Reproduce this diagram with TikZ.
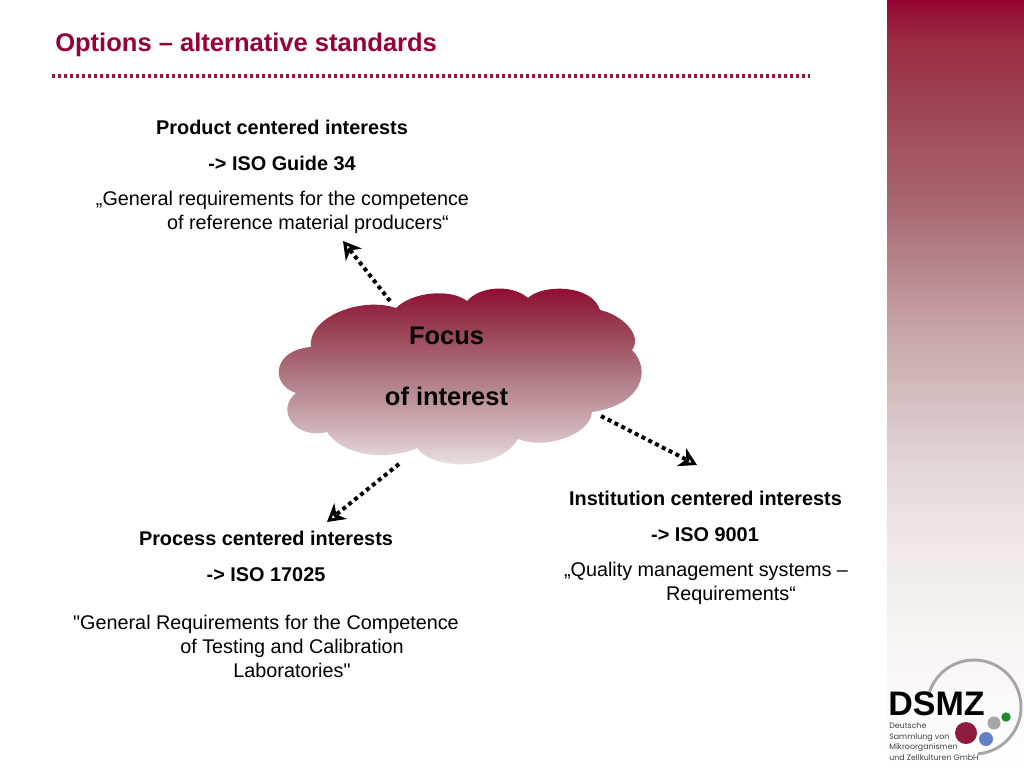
\documentclass[tikz,border=0pt]{standalone}
\usepackage{fontspec}
\setmainfont{Liberation Sans}
\newfontfamily\plainfont{Liberation Sans}
\newfontfamily\logofont{Poppins}
\newcommand{\straightq}{{\plainfont\symbol{34}}}
\usetikzlibrary{arrows.meta}
\definecolor{dsmzred}{HTML}{97003A}
\definecolor{linered}{HTML}{8E1A3E}
\definecolor{bs1}{RGB}{246,243,243}
\definecolor{bs2}{RGB}{239,233,233}
\definecolor{bs3}{RGB}{226,213,214}
\definecolor{bs4}{RGB}{200,168,172}
\definecolor{bs5}{RGB}{169,106,114}
\definecolor{bs6}{RGB}{157,66,80}
\definecolor{bs7}{RGB}{154,44,64}
\definecolor{bs8}{RGB}{150,16,56}
\definecolor{bs9}{RGB}{149,0,47}
\definecolor{cs1}{RGB}{238,232,234}
\definecolor{cs2}{RGB}{205,174,180}
\definecolor{cs3}{RGB}{176,122,134}
\definecolor{cs4}{RGB}{154,67,85}
\definecolor{cs5}{RGB}{144,32,63}
\definecolor{cs6}{RGB}{149,6,47}
\definecolor{logoblue}{RGB}{96,128,200}
\definecolor{logogreen}{RGB}{26,138,42}
\pgfdeclareverticalshading{bandshade}{100bp}{
  color(0bp)=(white); color(25bp)=(white);
  color(33.9bp)=(bs1);
  color(39.4bp)=(bs2);
  color(44.9bp)=(bs3);
  color(53.1bp)=(bs4);
  color(61.3bp)=(bs5);
  color(68.5bp)=(bs6);
  color(72.4bp)=(bs7);
  color(74.3bp)=(bs8);
  color(75bp)=(bs9);
  color(100bp)=(bs9)}
\pgfdeclareverticalshading{cloudshade}{100bp}{
  color(0bp)=(cs1); color(25bp)=(cs1);
  color(37.5bp)=(cs2);
  color(50bp)=(cs3);
  color(62.5bp)=(cs4);
  color(70bp)=(cs5);
  color(75bp)=(cs6);
  color(100bp)=(cs6)}
\tikzset{
  x=0.75pt,y=-0.75pt,
  txt/.style={inner sep=0pt,anchor=base,font=\fontsize{14.85pt}{17pt}\selectfont,text=black},
  txb/.style={txt,font=\fontsize{14.9pt}{17pt}\selectfont\bfseries},
  focus/.style={inner sep=0pt,anchor=base,font=\fontsize{19.1pt}{21pt}\selectfont\bfseries,text=black},
  arrowline/.style={line width=3pt,dash pattern=on 3pt off 2.7pt,
    -{Stealth[length=13pt,width=15pt,inset=4pt,open,line width=3.2pt,sep=0pt]}},
  logosmall/.style={inner sep=0pt,anchor=base west,font=\logofont\fontsize{5.9pt}{7pt}\selectfont,text=black!75}
}
\begin{document}
\begin{tikzpicture}
\useasboundingbox (0,0) rectangle (1024,768);
\fill[white] (0,0) rectangle (1024,768);
% side band
\shade[shading=bandshade] (887,0) rectangle (1024,768);
% title
\node[inner sep=0pt,anchor=base west,font=\fontsize{19.15pt}{22pt}\selectfont\bfseries,text=dsmzred] (title) at (55,51) {Options – alternative standards};
\coordinate (ruleA) at (52,76);
\coordinate (ruleB) at (810,76);
\draw[linered,line width=2.4pt,dash pattern=on 2.25pt off 2.25pt] (ruleA) -- (ruleB);
% cloud
\shade[shading=cloudshade]
  (311,347) .. controls (307,318) and (360,296) .. (396,308)
  .. controls (412,292) and (450,288) .. (467,301)
  .. controls (480,286) and (512,284) .. (528,298)
  .. controls (542,284) and (592,284) .. (600,310)
  .. controls (622,315) and (643,335) .. (632,350)
  .. controls (652,370) and (642,405) .. (592,412)
  .. controls (590,435) and (545,450) .. (518,439)
  .. controls (500,470) and (435,472) .. (417,448)
  .. controls (390,460) and (345,458) .. (327,432)
  .. controls (295,440) and (275,410) .. (296,393)
  .. controls (270,385) and (272,350) .. (311,347) -- cycle;
\node[focus] (focusA) at (446.5,344) {Focus};
\node[focus] (focusB) at (446.5,405) {of interest};
% product
\node[txb] (p1) at (282,134) {Product centered interests};
\node[txb] (p2) at (282,170) {-> ISO Guide 34};
\node[txt] (p3) at (282.5,205.5) {„General requirements for the competence};
\node[txt] (p4) at (308,229.5) {of reference material producers“};
% process
\node[txb] (q1) at (266,545) {Process centered interests};
\node[txb] (q2) at (266,581.5) {-> ISO 17025};
\node[txt] (q3) at (266,629) {\straightq General Requirements for the Competence};
\node[txt] (q4) at (292,653) {of Testing and Calibration};
\node[txt] (q5) at (292,677) {Laboratories\straightq};
% institution
\node[txb] (r1) at (705.5,505) {Institution centered interests};
\node[txb] (r2) at (705,541) {-> ISO 9001};
\node[txt] (r3) at (706,576.5) {„Quality management systems –};
\node[txt] (r4) at (731,600.5) {Requirements“};
% connectors
\coordinate (c1) at (390,301);
\coordinate (t1) at (343,241);
\coordinate (c2) at (399,464);
\coordinate (t2) at (327,522);
\coordinate (c3) at (601,416);
\coordinate (t3) at (697,465);
\draw[arrowline] (c1) -- (t1);
\draw[arrowline] (c2) -- (t2);
\draw[arrowline] (c3) -- (t3);
% logo
\draw[black!35,line width=2.2pt] (974,707) ++(85:47) arc[start angle=85,end angle=-161,radius=47];
\fill[linered] (966,733) circle[radius=11];
\fill[black!35] (994,723) circle[radius=6.5];
\fill[logoblue] (986,739) circle[radius=7];
\fill[logogreen] (1006,717) circle[radius=4.7];
\node[inner sep=0pt,anchor=base west,font=\fontsize{25.5pt}{28pt}\selectfont\bfseries,text=black] (dsmz) at (888,715) {DSMZ};
\node[logosmall] (l1) at (889,728) {Deutsche};
\node[logosmall] (l2) at (889,739) {Sammlung von};
\node[logosmall] (l3) at (889,749.5) {Mikroorganismen};
\node[logosmall] (l4) at (889,760) {und Zellkulturen GmbH};
\end{tikzpicture}
\end{document}
